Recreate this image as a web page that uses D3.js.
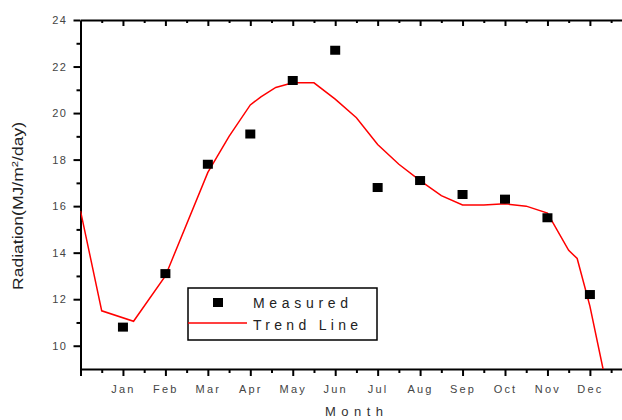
<!DOCTYPE html>
<html>
<head>
<meta charset="utf-8">
<script src="https://cdn.jsdelivr.net/npm/d3@7"></script>
<style>
  html, body { margin: 0; padding: 0; background: #fff; }
  svg { display: block; font-family: "Liberation Sans", Arial, sans-serif; }
</style>
</head>
<body>
<svg id="chart" width="622" height="420"></svg>
<script>
// ---- data ----
const months = ["Jan","Feb","Mar","Apr","May","Jun","Jul","Aug","Sep","Oct","Nov","Dec"];
const monthIndex = [1,2,3,4,5,6,7,8,9,10,11,12];
const measured = [10.8, 13.1, 17.8, 19.1, 21.4, 22.7, 16.8, 17.1, 16.5, 16.3, 15.5, 12.2];
const trendX = [0, 0.5, 1.25, 2, 3, 3.5, 4, 4.25, 4.6, 5, 5.5, 6, 6.5, 7, 7.5, 8, 8.5, 9, 9.5, 10, 10.5, 11, 11.5, 11.7, 12, 12.31];
const trendY = [15.8, 11.5, 11.05, 13.0, 17.45, 19.0, 20.35, 20.7, 21.1, 21.3, 21.3, 20.6, 19.8, 18.65, 17.8, 17.1, 16.45, 16.05, 16.05, 16.1, 16.0, 15.7, 14.1, 13.75, 11.7, 9.0];
const yTicks = [10, 12, 14, 16, 18, 20, 22, 24];
const yMinor = [11, 13, 15, 17, 19, 21, 23];
const xMinor = [0.5,1.5,2.5,3.5,4.5,5.5,6.5,7.5,8.5,9.5,10.5,11.5,12.5];

(function () {
const svg = d3.select("#chart");
const pL = 80.5, pT = 20, pB = 369;
const x = d3.scaleLinear().domain([0, 13]).range([pL, pL + 13 * 42.45]);
const y = d3.scaleLinear().domain([9, 24]).range([pB, pT]);

svg.append("defs").append("clipPath").attr("id", "plot")
  .append("rect").attr("x", pL).attr("y", pT).attr("width", 622 - pL).attr("height", pB - pT);

function styleAxis(g) {
  g.selectAll("path.domain").attr("stroke", "#000").attr("stroke-width", 2);
  g.selectAll(".tick line").attr("stroke", "#000").attr("stroke-width", 2);
  g.selectAll(".tick text").attr("fill", "#444").attr("font-size", 11)
    .attr("font-family", "Liberation Sans, Arial, sans-serif")
    .style("letter-spacing", "2.2px");
}

// bottom axis (major with labels)
const bx = svg.append("g").attr("transform", `translate(0,${pB})`)
  .call(d3.axisBottom(x).tickValues([0].concat(monthIndex)).tickSize(7).tickSizeOuter(0).tickPadding(9)
    .tickFormat(d => d === 0 ? "" : months[d - 1]));
styleAxis(bx);
svg.append("g").attr("transform", `translate(0,${pB})`)
  .call(d3.axisBottom(x).tickValues(xMinor).tickSize(4).tickSizeOuter(0).tickFormat(""))
  .call(styleAxis).select(".domain").remove();

// top axis, inward ticks
svg.append("g").attr("transform", `translate(0,${pT})`)
  .call(d3.axisTop(x).tickValues(monthIndex).tickSize(-6).tickSizeOuter(0).tickFormat(""))
  .call(styleAxis);
svg.append("g").attr("transform", `translate(0,${pT})`)
  .call(d3.axisTop(x).tickValues(xMinor).tickSize(-3).tickSizeOuter(0).tickFormat(""))
  .call(styleAxis).select(".domain").remove();

// left axis
const ly = svg.append("g").attr("transform", `translate(${pL},0)`)
  .call(d3.axisLeft(y).tickValues(yTicks).tickSize(7).tickSizeOuter(0).tickPadding(6));
styleAxis(ly);
ly.selectAll(".tick text").style("letter-spacing", "1.5px");
svg.append("g").attr("transform", `translate(${pL},0)`)
  .call(d3.axisLeft(y).tickValues(yMinor).tickSize(4).tickSizeOuter(0).tickFormat(""))
  .call(styleAxis).select(".domain").remove();

// trend line
const pts = trendX.map((d, i) => [d, trendY[i]]);
svg.append("path").datum(pts)
  .attr("clip-path", "url(#plot)")
  .attr("fill", "none").attr("stroke", "#ff0000").attr("stroke-width", 1.5)
  .attr("d", d3.line().x(d => x(d[0])).y(d => y(d[1])));

// measured squares
const sq = 10;
svg.append("g").selectAll("rect").data(measured).join("rect")
  .attr("x", (d, i) => x(monthIndex[i]) - sq / 2)
  .attr("y", d => y(d) - sq / 2 + 0.5)
  .attr("width", sq).attr("height", sq - 1)
  .attr("fill", "#000");

// legend
const lg = svg.append("g");
lg.append("rect").attr("x", 188).attr("y", 288).attr("width", 189).attr("height", 52)
  .attr("fill", "#fff").attr("stroke", "#000").attr("stroke-width", 1.5);
lg.append("rect").attr("x", 213).attr("y", 298).attr("width", 10).attr("height", 9).attr("fill", "#000");
lg.append("line").attr("x1", 188).attr("x2", 247).attr("y1", 323).attr("y2", 323)
  .attr("stroke", "#ff0000").attr("stroke-width", 1.5);
lg.append("text").attr("x", 253).attr("y", 308).attr("font-size", 14).attr("fill", "#222")
  .attr("textLength", 95).attr("lengthAdjust", "spacing").text("Measured");
lg.append("text").attr("x", 253).attr("y", 330).attr("font-size", 14).attr("fill", "#222")
  .attr("textLength", 105).attr("lengthAdjust", "spacing").text("Trend Line");

// axis titles
svg.append("text").attr("x", 325).attr("y", 416)
  .attr("font-size", 13).attr("fill", "#333")
  .attr("textLength", 58).attr("lengthAdjust", "spacing").text("Month");
const yl = svg.append("text").attr("transform", "translate(23,206) rotate(-90)")
  .attr("text-anchor", "middle").attr("font-size", 14).attr("fill", "#222")
  .attr("textLength", 168).attr("lengthAdjust", "spacingAndGlyphs");
yl.append("tspan").text("Radiation(MJ/m");
yl.append("tspan").attr("dy", -5).attr("font-size", 9).text("2");
yl.append("tspan").attr("dy", 5).text("/day)");
})();
</script>
</body>
</html>
